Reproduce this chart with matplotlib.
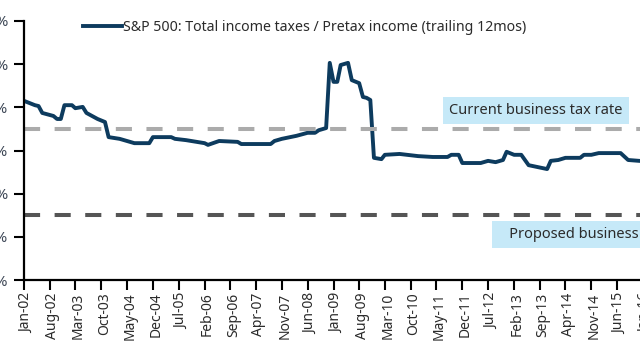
import numpy as np
import pandas as pd
import matplotlib
matplotlib.use("Agg")
import matplotlib.pyplot as plt
import matplotlib.dates as mdates
import matplotlib.transforms as mtransforms

# S&P 500 effective tax rate (%) at the turning points
months = ["2002-01", "2002-04", "2002-05", "2002-06", "2002-09", "2002-10", "2002-11",
          "2002-12", "2003-02", "2003-03", "2003-05", "2003-06", "2003-09", "2003-11",
          "2003-12", "2004-03", "2004-05", "2004-07", "2004-11", "2004-12", "2005-05",
          "2005-06", "2005-09", "2006-02", "2006-03", "2006-06", "2006-11", "2006-12",
          "2007-08", "2007-09", "2007-11", "2008-03", "2008-06", "2008-08", "2008-09",
          "2008-11", "2008-12", "2009-01", "2009-02", "2009-03", "2009-05", "2009-06",
          "2009-08", "2009-09", "2009-10", "2009-11", "2009-12", "2010-02", "2010-03",
          "2010-07", "2010-12", "2011-04", "2011-08", "2011-09", "2011-11", "2011-12",
          "2012-05", "2012-07", "2012-09", "2012-11", "2012-12", "2013-02", "2013-04",
          "2013-06", "2013-11", "2013-12", "2014-02", "2014-04", "2014-08", "2014-09",
          "2014-11", "2015-01", "2015-07", "2015-09", "2015-12", "2016-02"]
tax_rate = [41.5, 40.5, 40.3, 38.7, 38.0, 37.3, 37.3,
            40.5, 40.5, 39.8, 40.1, 38.7, 37.3, 36.6,
            33.1, 32.7, 32.2, 31.7, 31.7, 33.1, 33.1,
            32.7, 32.4, 31.7, 31.3, 32.2, 32.0, 31.5,
            31.5, 32.2, 32.7, 33.4, 34.1, 34.1, 34.7,
            35.2, 50.3, 45.9, 45.9, 49.8, 50.3, 46.3,
            45.6, 42.4, 42.2, 41.7, 28.3, 28.0, 29.0,
            29.2, 28.7, 28.5, 28.5, 29.0, 29.0, 27.1,
            27.1, 27.6, 27.3, 27.8, 29.7, 29.0, 29.0,
            26.6, 25.7, 27.6, 27.8, 28.3, 28.3, 29.0,
            29.0, 29.4, 29.4, 27.8, 27.6, 27.5]

current_rate = 35
proposed_rate = 15
yticks = [0, 10, 20, 30, 40, 50, 60]

dates = pd.to_datetime(months)
ticks = pd.date_range("2002-01-01", "2016-12-01", freq="7MS")

navy = "#0d3b5e"
txt = "#2b2b2b"
box = "#c6e9f8"

fig = plt.figure(figsize=(6.4, 3.6), dpi=100)
# axes run past the right edge of the picture, as in the cropped reference
ax = fig.add_axes([24 / 640, 80 / 360, 700 / 640, 259 / 360])

ax.plot(dates, tax_rate, color=navy, lw=2.8,
        label="S&P 500: Total income taxes / Pretax income (trailing 12mos)")
ax.axhline(current_rate, color="#ababab", lw=2.9, dashes=(4, 3.6))
ax.axhline(proposed_rate, color="#555555", lw=2.9, dashes=(4, 3.6))

ax.set_ylim(0, 60)
ax.set_yticks(yticks)
ax.set_yticklabels([f"{v}%" for v in yticks])
ax.set_xlim(pd.Timestamp("2002-01-01"), pd.Timestamp("2002-01-01") + pd.DateOffset(months=190))
ax.set_xticks(ticks)
ax.xaxis.set_major_formatter(mdates.DateFormatter("%b-%y"))

for s in ["top", "right"]:
    ax.spines[s].set_visible(False)
for s in ["left", "bottom"]:
    ax.spines[s].set_linewidth(1.6)
ax.tick_params(axis="both", direction="out", length=7, width=1.5, colors="black")
ax.tick_params(axis="y", pad=4.5, labelsize=11, labelcolor="#3d4756")
ax.tick_params(axis="x", labelsize=10, labelcolor=txt, pad=2)
shift = mtransforms.ScaledTranslation(3 / 100, 0, fig.dpi_scale_trans)
for lab in ax.get_xticklabels():
    lab.set_rotation(90)
    lab.set_family("Noto Sans")
    lab.set_transform(lab.get_transform() + shift)
for lab in ax.get_yticklabels():
    lab.set_family("Noto Sans")

ax.text(pd.Timestamp("2013-08-01"), 39.3, "Current business tax rate", family="Noto Sans",
        fontsize=10.5, color=txt, ha="center", va="center",
        bbox=dict(boxstyle="square,pad=0.4", fc=box, ec="none"))
ax.text(pd.Timestamp("2012-09-20"), 10.5, "   Proposed business tax rate", family="Noto Sans",
        fontsize=10.5, color=txt, ha="left", va="center",
        bbox=dict(boxstyle="square,pad=0.4", fc=box, ec="none"))

ax.legend(loc="upper left", bbox_to_anchor=(83 / 640, 1 - 20 / 360),
          bbox_transform=fig.transFigure, frameon=False, borderpad=0, borderaxespad=0,
          handlelength=2.75, handletextpad=0.05, prop={"family": "Noto Sans", "size": 10.2},
          labelcolor=txt)

fig.savefig("out.png", dpi=100)
